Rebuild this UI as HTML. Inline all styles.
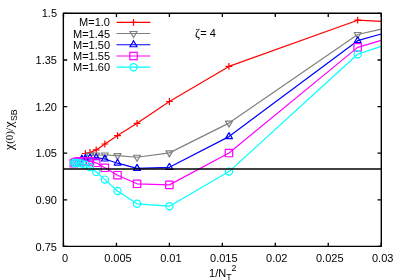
<!DOCTYPE html>
<html><head><meta charset="utf-8"><style>
html,body{margin:0;padding:0;background:#fff;}
body{width:400px;height:280px;overflow:hidden;}
svg{display:block;will-change:transform;opacity:0.999;}
text{font-family:"Liberation Sans",sans-serif;font-size:11px;fill:#000;}
.sf{font-family:"Liberation Serif",serif;font-size:11px;}
.zeta{font-family:"Liberation Serif",serif;font-size:12px;}
.chi{font-family:"Liberation Serif",serif;font-size:13.5px;}
</style></head><body>
<svg width="400" height="280" viewBox="0 0 400 280">
<rect width="400" height="280" fill="#fff"/>
<g stroke-width="1.2" stroke-linejoin="round">
<path d="M381.20 21.30L357.67 20.20L228.97 66.40L169.40 101.50L137.04 123.30L117.53 135.60L104.87 144.00L96.19 149.90L89.97 152.50L85.38 153.50" stroke="#ff0000" fill="none"/>
<path d="M354.27 20.20H361.07M357.67 16.80V23.60" stroke="#ff0000" fill="none"/>
<path d="M225.57 66.40H232.37M228.97 63.00V69.80" stroke="#ff0000" fill="none"/>
<path d="M166.00 101.50H172.80M169.40 98.10V104.90" stroke="#ff0000" fill="none"/>
<path d="M133.64 123.30H140.44M137.04 119.90V126.70" stroke="#ff0000" fill="none"/>
<path d="M114.13 135.60H120.93M117.53 132.20V139.00" stroke="#ff0000" fill="none"/>
<path d="M101.47 144.00H108.27M104.87 140.60V147.40" stroke="#ff0000" fill="none"/>
<path d="M92.79 149.90H99.59M96.19 146.50V153.30" stroke="#ff0000" fill="none"/>
<path d="M86.57 152.50H93.38M89.97 149.10V155.90" stroke="#ff0000" fill="none"/>
<path d="M81.98 153.50H88.78M85.38 150.10V156.90" stroke="#ff0000" fill="none"/>
<path d="M381.20 29.10L357.67 34.50L228.97 123.10L169.40 152.90L137.04 157.25L117.53 155.60L104.87 155.00L96.19 155.00L89.97 155.20" stroke="#808080" fill="none"/>
<path d="M357.67 38.50L354.21 32.50H361.13Z" stroke="#808080" fill="none"/>
<path d="M228.97 127.10L225.51 121.10H232.43Z" stroke="#808080" fill="none"/>
<path d="M169.40 156.90L165.94 150.90H172.86Z" stroke="#808080" fill="none"/>
<path d="M137.04 161.25L133.58 155.25H140.50Z" stroke="#808080" fill="none"/>
<path d="M117.53 159.60L114.07 153.60H120.99Z" stroke="#808080" fill="none"/>
<path d="M104.87 159.00L101.41 153.00H108.33Z" stroke="#808080" fill="none"/>
<path d="M96.19 159.00L92.73 153.00H99.65Z" stroke="#808080" fill="none"/>
<path d="M89.97 159.20L86.52 153.20H93.43Z" stroke="#808080" fill="none"/>
<path d="M381.20 34.00L357.67 40.70L228.97 136.60L169.40 167.30L137.04 168.40L117.53 163.20L104.87 159.00L96.19 157.70L89.97 158.00L85.38 158.60L81.89 159.00" stroke="#0000ff" fill="none"/>
<path d="M357.67 36.70L354.21 42.70H361.13Z" stroke="#0000ff" fill="none"/>
<path d="M228.97 132.60L225.51 138.60H232.43Z" stroke="#0000ff" fill="none"/>
<path d="M169.40 163.30L165.94 169.30H172.86Z" stroke="#0000ff" fill="none"/>
<path d="M137.04 164.40L133.58 170.40H140.50Z" stroke="#0000ff" fill="none"/>
<path d="M117.53 159.20L114.07 165.20H120.99Z" stroke="#0000ff" fill="none"/>
<path d="M104.87 155.00L101.41 161.00H108.33Z" stroke="#0000ff" fill="none"/>
<path d="M96.19 153.70L92.73 159.70H99.65Z" stroke="#0000ff" fill="none"/>
<path d="M89.97 154.00L86.52 160.00H93.43Z" stroke="#0000ff" fill="none"/>
<path d="M85.38 154.60L81.92 160.60H88.84Z" stroke="#0000ff" fill="none"/>
<path d="M81.89 155.00L78.43 161.00H85.35Z" stroke="#0000ff" fill="none"/>
<path d="M381.20 40.35L357.67 47.40L228.97 153.05L169.40 184.90L137.04 183.80L117.53 175.20L104.87 167.80L96.19 162.80L89.97 161.40L85.38 161.20L81.89 161.20L79.17 161.30L77.01 161.80L75.27 162.50L73.84 163.30" stroke="#ff00ff" fill="none"/>
<rect x="353.97" y="43.70" width="7.4" height="7.4" stroke="#ff00ff" fill="none"/>
<rect x="225.27" y="149.35" width="7.4" height="7.4" stroke="#ff00ff" fill="none"/>
<rect x="165.70" y="181.20" width="7.4" height="7.4" stroke="#ff00ff" fill="none"/>
<rect x="133.34" y="180.10" width="7.4" height="7.4" stroke="#ff00ff" fill="none"/>
<rect x="113.83" y="171.50" width="7.4" height="7.4" stroke="#ff00ff" fill="none"/>
<rect x="101.17" y="164.10" width="7.4" height="7.4" stroke="#ff00ff" fill="none"/>
<rect x="92.49" y="159.10" width="7.4" height="7.4" stroke="#ff00ff" fill="none"/>
<rect x="86.27" y="157.70" width="7.4" height="7.4" stroke="#ff00ff" fill="none"/>
<rect x="81.68" y="157.50" width="7.4" height="7.4" stroke="#ff00ff" fill="none"/>
<rect x="78.19" y="157.50" width="7.4" height="7.4" stroke="#ff00ff" fill="none"/>
<rect x="75.47" y="157.60" width="7.4" height="7.4" stroke="#ff00ff" fill="none"/>
<rect x="73.31" y="158.10" width="7.4" height="7.4" stroke="#ff00ff" fill="none"/>
<rect x="71.57" y="158.80" width="7.4" height="7.4" stroke="#ff00ff" fill="none"/>
<rect x="70.14" y="159.60" width="7.4" height="7.4" stroke="#ff00ff" fill="none"/>
<path d="M381.20 46.35L357.67 54.30L228.97 171.60L169.40 206.20L137.04 203.80L117.53 191.00L104.87 179.60L96.19 171.90L89.97 167.00L85.38 164.80L81.89 163.60L79.17 163.10L77.01 163.00L75.27 163.00L73.84 163.00" stroke="#00ffff" fill="none"/>
<circle cx="357.67" cy="54.30" r="3.6" stroke="#00ffff" fill="none"/>
<circle cx="228.97" cy="171.60" r="3.6" stroke="#00ffff" fill="none"/>
<circle cx="169.40" cy="206.20" r="3.6" stroke="#00ffff" fill="none"/>
<circle cx="137.04" cy="203.80" r="3.6" stroke="#00ffff" fill="none"/>
<circle cx="117.53" cy="191.00" r="3.6" stroke="#00ffff" fill="none"/>
<circle cx="104.87" cy="179.60" r="3.6" stroke="#00ffff" fill="none"/>
<circle cx="96.19" cy="171.90" r="3.6" stroke="#00ffff" fill="none"/>
<circle cx="89.97" cy="167.00" r="3.6" stroke="#00ffff" fill="none"/>
<circle cx="85.38" cy="164.80" r="3.6" stroke="#00ffff" fill="none"/>
<circle cx="81.89" cy="163.60" r="3.6" stroke="#00ffff" fill="none"/>
<circle cx="79.17" cy="163.10" r="3.6" stroke="#00ffff" fill="none"/>
<circle cx="77.01" cy="163.00" r="3.6" stroke="#00ffff" fill="none"/>
<circle cx="75.27" cy="163.00" r="3.6" stroke="#00ffff" fill="none"/>
<circle cx="73.84" cy="163.00" r="3.6" stroke="#00ffff" fill="none"/>
</g>
<path d="M63.5 169H381.2" stroke="#000" stroke-width="1.4" fill="none"/>
<rect x="63.35" y="13.3" width="317.95" height="233.1" fill="none" stroke="#000" stroke-width="1.4" stroke-linejoin="round"/>
<path d="M63.50 246.4v-3.7M63.50 13.4v3.7M116.45 246.4v-3.7M116.45 13.4v3.7M169.40 246.4v-3.7M169.40 13.4v3.7M222.35 246.4v-3.7M222.35 13.4v3.7M275.30 246.4v-3.7M275.30 13.4v3.7M328.25 246.4v-3.7M328.25 13.4v3.7M381.20 246.4v-3.7M381.20 13.4v3.7M63.5 246.40h3.7M381.2 246.40h-3.7M63.5 199.80h3.7M381.2 199.80h-3.7M63.5 153.20h3.7M381.2 153.20h-3.7M63.5 106.60h3.7M381.2 106.60h-3.7M63.5 60.00h3.7M381.2 60.00h-3.7M63.5 13.40h3.7M381.2 13.40h-3.7" stroke="#000" stroke-width="1.3" fill="none"/>
<text x="65.00" y="261.5" text-anchor="middle">0</text>
<text x="117.95" y="261.5" text-anchor="middle">0.005</text>
<text x="170.90" y="261.5" text-anchor="middle">0.01</text>
<text x="223.85" y="261.5" text-anchor="middle">0.015</text>
<text x="276.80" y="261.5" text-anchor="middle">0.02</text>
<text x="329.75" y="261.5" text-anchor="middle">0.025</text>
<text x="382.70" y="261.5" text-anchor="middle">0.03</text>
<text x="57" y="250.80" text-anchor="end">0.75</text>
<text x="57" y="204.08" text-anchor="end">0.90</text>
<text x="57" y="157.36" text-anchor="end">1.05</text>
<text x="57" y="110.64" text-anchor="end">1.20</text>
<text x="57" y="63.92" text-anchor="end">1.35</text>
<text x="57" y="17.20" text-anchor="end">1.5</text>
<text x="110" y="26.30" text-anchor="end">M=1.0</text>
<g stroke-width="1.2"><path d="M116.5 22.30H150.3" stroke="#ff0000" fill="none"/>
<path d="M130.10 22.30H136.90M133.50 18.90V25.70" stroke="#ff0000" fill="none"/></g>
<text x="110" y="37.50" text-anchor="end">M=1.45</text>
<g stroke-width="1.2"><path d="M116.5 33.50H150.3" stroke="#808080" fill="none"/>
<path d="M133.50 37.50L130.04 31.50H136.96Z" stroke="#808080" fill="none"/></g>
<text x="110" y="48.75" text-anchor="end">M=1.50</text>
<g stroke-width="1.2"><path d="M116.5 44.75H150.3" stroke="#0000ff" fill="none"/>
<path d="M133.50 40.75L130.04 46.75H136.96Z" stroke="#0000ff" fill="none"/></g>
<text x="110" y="60.00" text-anchor="end">M=1.55</text>
<g stroke-width="1.2"><path d="M116.5 56.00H150.3" stroke="#ff00ff" fill="none"/>
<rect x="129.80" y="52.30" width="7.4" height="7.4" stroke="#ff00ff" fill="none"/></g>
<text x="110" y="71.20" text-anchor="end">M=1.60</text>
<g stroke-width="1.2"><path d="M116.5 67.20H150.3" stroke="#00ffff" fill="none"/>
<circle cx="133.50" cy="67.20" r="3.6" stroke="#00ffff" fill="none"/></g>
<text x="195" y="37"><tspan class="zeta">ζ</tspan><tspan dx="0.4">= 4</tspan></text>
<text x="222.8" y="277.2" text-anchor="middle">1/N<tspan dy="3" font-size="8.8">T</tspan><tspan dy="-8.8" font-size="8.8">2</tspan></text>
<text transform="translate(13.4,150.1) rotate(-90)"><tspan class="chi">χ</tspan><tspan class="sf" dx="0.3">(0)/</tspan><tspan class="chi" dx="0.3">χ</tspan><tspan dy="3.3" dx="0.5" font-size="8.8">SB</tspan></text>
</svg></body></html>
